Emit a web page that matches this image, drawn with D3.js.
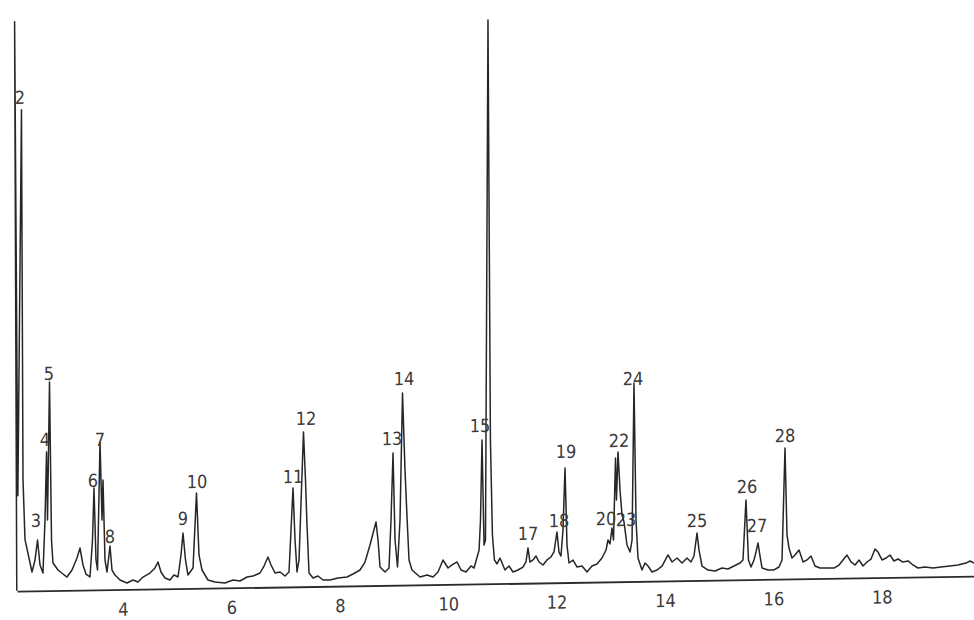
<!DOCTYPE html>
<html><head><meta charset="utf-8">
<script src="https://cdn.jsdelivr.net/npm/d3@7"></script>
<style>html,body{margin:0;padding:0;background:#fff;}svg{display:block;}</style>
</head><body><svg id="c" width="974" height="620"></svg>
<script>
// retention time (min) and detector response (arbitrary units)
const times = [2.04,2.0,2.06,2.127,2.155,2.192,2.321,2.376,2.423,2.469,2.524,2.561,2.589,2.607,2.644,2.681,2.708,2.801,2.893,2.967,3.059,3.151,3.207,3.262,3.317,3.391,3.437,3.465,3.502,3.530,3.576,3.613,3.631,3.668,3.705,3.760,3.797,3.852,3.945,4.074,4.184,4.277,4.369,4.498,4.590,4.646,4.701,4.775,4.867,4.941,5.015,5.070,5.107,5.153,5.199,5.292,5.356,5.402,5.458,5.568,5.697,5.882,6.030,6.159,6.288,6.399,6.528,6.602,6.675,6.731,6.805,6.897,6.989,7.063,7.100,7.137,7.174,7.211,7.248,7.330,7.367,7.395,7.432,7.506,7.598,7.690,7.819,7.967,8.133,8.244,8.373,8.465,8.557,8.668,8.705,8.742,8.834,8.908,8.945,8.982,9.019,9.065,9.111,9.157,9.203,9.240,9.277,9.332,9.480,9.609,9.720,9.812,9.904,9.997,10.071,10.163,10.237,10.329,10.421,10.477,10.570,10.596,10.624,10.661,10.688,10.734,10.779,10.816,10.853,10.900,10.955,11.047,11.121,11.195,11.288,11.380,11.435,11.472,11.509,11.565,11.620,11.676,11.749,11.823,11.897,11.952,12.007,12.044,12.081,12.118,12.155,12.192,12.229,12.303,12.376,12.469,12.561,12.653,12.745,12.838,12.912,12.948,12.985,13.022,13.050,13.087,13.105,13.133,13.170,13.207,13.244,13.299,13.355,13.392,13.428,13.465,13.502,13.576,13.631,13.687,13.760,13.853,13.945,14.056,14.130,14.222,14.314,14.406,14.480,14.535,14.591,14.627,14.683,14.793,14.923,15.052,15.162,15.273,15.384,15.439,15.494,15.540,15.587,15.642,15.679,15.716,15.753,15.790,15.901,16.011,16.103,16.159,16.214,16.251,16.288,16.343,16.399,16.473,16.547,16.620,16.694,16.768,16.860,16.989,17.118,17.211,17.284,17.358,17.432,17.506,17.580,17.653,17.727,17.801,17.875,17.930,18.004,18.078,18.151,18.225,18.299,18.391,18.484,18.576,18.668,18.797,18.945,19.092,19.258,19.406,19.554,19.627,19.701];
const response = [-10,559,85,471,101,41,8.5,20.4,40.4,15.4,7.3,60.3,128.3,60.2,198.2,40.2,17.2,10.1,6,2.9,9.9,21.8,31.7,14.7,5.6,2.6,39.5,91.5,19.5,9.5,137.4,59.4,99.4,19.3,7.3,33.3,9.2,4.2,-0.9,-4,-1.1,-3.2,1.7,5.6,10.6,16.5,6.5,0.4,-1.7,3.3,1.2,23.1,45.1,18.1,3,10,84.9,22.9,7.8,-2.3,-4.4,-5.6,-2.7,-3.8,0.1,1,3.9,10.8,19.8,11.7,3.7,4.6,0.5,4.4,46.4,88.4,36.3,4.3,16.3,144.2,96.2,51.2,3.1,-2,0,-4.1,-4.2,-2.3,-1.5,1.4,5.3,13.2,30.2,53.1,35,8,2.9,6.9,54.8,121.8,34.8,7.7,54.7,181.6,104.6,57.6,14.5,4.5,-2.6,-0.7,-2.8,2.1,14,5.9,8.9,11.8,3.7,1.6,7.6,5.5,23.4,53.4,133.4,28.4,33.3,553.3,133.3,38.2,13.2,9.2,15.1,3,7,0.9,2.8,5.7,10.7,24.7,10.6,12.6,16.5,10.5,7.4,12.4,15.3,20.3,40.2,20.2,16.1,42.1,104.1,27,9,11.9,4.9,5.8,-0.3,5.6,7.6,13.5,21.4,31.4,27.4,43.3,31.3,113.3,71.3,119.2,81.2,56.2,49.1,26.1,19,31,188,50.9,12.9,0.9,7.8,4.8,-1.3,0.6,4.5,15.5,8.4,12.3,7.2,12.2,8.1,14,37,20,3.9,-0.2,-1.3,1.6,0.5,3.4,6.3,9.3,69.2,9.2,2.1,9.1,17.1,26,13,1,-1.1,-1.2,1.7,8.6,120.6,33.6,20.5,10.5,13.4,18.4,6.3,8.3,12.2,2.1,0,-0.1,-0.2,2.7,7.7,12.6,5.6,2.5,7.4,1.4,5.3,8.2,18.2,15.1,7.1,9,11.9,5.9,7.8,4.7,5.7,1.6,-1.5,-0.6,-1.7,-0.9,0,0.9,2.7,4.7,2.6];
const tickValues = [4,6,8,10,12,14,16,18];
const peakLabels = ["2","3","4","5","6","7","8","9","10","11","12","13","14","15","17","18","19","20","22","23","24","25","26","27","28"];
const labelTimes = [2.10,2.395,2.561,2.635,3.446,3.576,3.760,5.107,5.365,7.137,7.376,8.963,9.184,10.587,11.472,12.044,12.173,12.911,13.151,13.280,13.410,14.591,15.513,15.698,16.214];
const labelLevels = [476.7,53.4,134.3,200.2,92.5,133.4,36.3,53.1,89.9,93.4,151.2,129.8,189.6,141.4,32.7,45.2,114.1,46.4,124.2,45.1,186,43,76.2,37,126.6];

const FONT = "'DejaVu Sans Condensed', 'Liberation Sans Narrow', sans-serif";
const svg = d3.select("#c");
const x = d3.scaleLinear().domain([2, 20]).range([14.6, 990.2]);
const y = d3.scaleLinear().domain([0, 560]).range([581, 21]);

// the scanned recorder trace is slightly sheared
const g = svg.append("g").attr("transform", "skewY(-0.905)");

const axisScale = x.copy().domain([2.045, 19.7]).range([x(2.045), x(19.7)]);
const axis = d3.axisBottom(axisScale).tickValues(tickValues).tickSize(0).tickPadding(0).tickFormat(d3.format("d"));
const ax = g.append("g").attr("transform", "translate(0,591.5)").call(axis);
ax.select(".domain").attr("stroke", "#2b2b2b").attr("stroke-width", 1.8);
ax.selectAll(".tick text")
  .attr("y", 26).attr("dy", 0)
  .attr("fill", "#3a3a3a")
  .style("font-family", FONT)
  .style("font-stretch", "condensed")
  .style("font-size", "18px");

const pts = times.map((t, i) => [t, response[i]]);
const line = d3.line().x(d => x(d[0])).y(d => y(d[1]));
g.append("path").datum(pts)
  .attr("d", line)
  .attr("fill", "none")
  .attr("stroke", "#262626")
  .attr("stroke-width", 1.5)
  .attr("stroke-linejoin", "round");

g.append("g").selectAll("text").data(peakLabels).join("text")
  .attr("x", (d, i) => x(labelTimes[i]))
  .attr("y", (d, i) => y(labelLevels[i]))
  .attr("text-anchor", "middle")
  .attr("fill", "#3a3a3a")
  .style("font-family", FONT)
  .style("font-stretch", "condensed")
  .style("font-size", "18px")
  .text(d => d);
</script></body></html>
